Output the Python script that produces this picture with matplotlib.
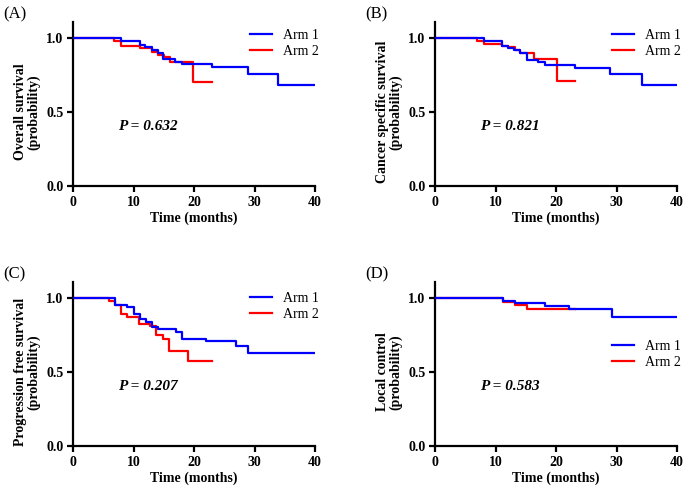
import matplotlib
matplotlib.use("Agg")
import matplotlib.pyplot as plt

plt.rcParams['font.family'] = ['Liberation Serif', 'DejaVu Serif']

# ---- data ----
panel_labels = ["(A)", "(B)", "(C)", "(D)"]
ylabels = ["Overall survival\n(probability)",
           "Cancer specific survival\n(probability)",
           "Progression free survival\n(probability)",
           "Local control\n(probability)"]
pvalues = ["P = 0.632", "P = 0.821", "P = 0.207", "P = 0.583"]
series_names = ["Arm 1", "Arm 2"]

a_arm1_t = [0, 8.0, 11.1, 11.9, 13.0, 14.0, 14.9, 16.9, 18.0, 22.9, 28.9, 33.9, 40]
a_arm1_s = [1.0, 0.982, 0.952, 0.937, 0.919, 0.901, 0.856, 0.836, 0.822, 0.802, 0.758, 0.682, 0.682]
a_arm2_t = [0, 6.8, 8.0, 11.1, 13.0, 14.0, 15.0, 16.0, 19.9, 22.9]
a_arm2_s = [1.0, 0.983, 0.948, 0.930, 0.908, 0.885, 0.870, 0.840, 0.700, 0.700]

b_arm1_t = [0, 8.1, 11.1, 12.1, 13.0, 14.0, 15.2, 17.1, 18.1, 23.1, 29.0, 34.2, 40]
b_arm1_s = [1.0, 0.982, 0.948, 0.933, 0.919, 0.896, 0.851, 0.836, 0.818, 0.800, 0.755, 0.682, 0.682]
b_arm2_t = [0, 7.0, 8.1, 11.1, 12.1, 13.2, 14.0, 16.3, 20.2, 23.1]
b_arm2_s = [1.0, 0.980, 0.959, 0.948, 0.937, 0.920, 0.900, 0.856, 0.712, 0.712]

c_arm1_t = [0, 6.9, 9.0, 10.0, 11.1, 12.1, 13.0, 14.1, 17.1, 18.0, 22.0, 26.9, 29.0, 40]
c_arm1_s = [1.0, 0.950, 0.938, 0.889, 0.860, 0.840, 0.806, 0.791, 0.773, 0.723, 0.707, 0.678, 0.630, 0.630]
c_arm2_t = [0, 5.9, 6.9, 7.9, 8.9, 10.9, 12.8, 13.8, 14.9, 15.9, 19.0, 22.9]
c_arm2_s = [1.0, 0.981, 0.950, 0.890, 0.874, 0.825, 0.810, 0.752, 0.723, 0.640, 0.572, 0.572]

d_arm1_t = [0, 11.2, 13.2, 18.2, 22.2, 29.2, 40]
d_arm1_s = [1.0, 0.982, 0.964, 0.948, 0.924, 0.870, 0.870]
d_arm2_t = [0, 11.2, 13.2, 15.2, 23.1]
d_arm2_s = [1.0, 0.975, 0.955, 0.924, 0.924]

x_ticks = [0, 10, 20, 30, 40]
y_ticks = [0.0, 0.5, 1.0]
y_ticklabels = ["0.0", "0.5", "1.0"]

panels = [
    (a_arm1_t, a_arm1_s, a_arm2_t, a_arm2_s),
    (b_arm1_t, b_arm1_s, b_arm2_t, b_arm2_s),
    (c_arm1_t, c_arm1_s, c_arm2_t, c_arm2_s),
    (d_arm1_t, d_arm1_s, d_arm2_t, d_arm2_s),
]

W, H = 685, 490
fig = plt.figure(figsize=(W / 100, H / 100), dpi=100)

# axes pixel geometry: (x0 px, y of 0.0 px)
geo = [(73, 186), (435, 186), (73, 446), (435, 446)]
ax_w = 242
unit_h = 148
ytop = 1.11
legend_pos = [(250, 29), (612, 29), (250, 292), (612, 340)]
label_pos = [(3, 6), (365, 6), (3, 266), (365, 266)]

blue = "#0000ff"
red = "#ff0000"

for i, (t1, s1, t2, s2) in enumerate(panels):
    x0, y0 = geo[i]
    hpx = unit_h * ytop
    ax = fig.add_axes([x0 / W, 1 - y0 / H, ax_w / W, hpx / H])
    l2, = ax.step(t2, s2, where="post", color=red, lw=1.6, zorder=2, label=series_names[1])
    l1, = ax.step(t1, s1, where="post", color=blue, lw=1.6, zorder=3, label=series_names[0])
    ax.set_xlim(0, 40)
    ax.set_ylim(0, ytop)
    for sp in ["top", "right"]:
        ax.spines[sp].set_visible(False)
    for sp in ["left", "bottom"]:
        ax.spines[sp].set_linewidth(1.6)
    ax.set_xticks(x_ticks)
    ax.set_yticks(y_ticks)
    ax.set_yticklabels(y_ticklabels)
    ax.tick_params(direction="out", length=4, width=1.6, labelsize=10, pad=3)
    for lab in ax.get_xticklabels() + ax.get_yticklabels():
        lab.set_fontweight("bold")
    ax.set_xlabel("Time (months)", fontsize=10, fontweight="bold", labelpad=2)
    ax.text(-0.19, 0.5 / ytop, ylabels[i], transform=ax.transAxes, rotation=90,
            ha="center", va="center", fontsize=10, fontweight="bold",
            multialignment="center", linespacing=1.05)
    ax.text(7.4, 0.40, pvalues[i], fontsize=11, fontweight="bold", fontstyle="italic",
            ha="left", va="center")
    lx, ly = legend_pos[i]
    ax.legend(handles=[l1, l2], loc="upper left", bbox_to_anchor=(lx / W, 1 - ly / H),
              bbox_transform=fig.transFigure, frameon=False, fontsize=10,
              borderpad=0, borderaxespad=0, handlelength=1.6, handletextpad=0.8,
              labelspacing=0.2)
    px, py = label_pos[i]
    fig.text(px / W, 1 - py / H, panel_labels[i], fontsize=12, ha="left", va="top")

fig.savefig("out.png", dpi=100)
